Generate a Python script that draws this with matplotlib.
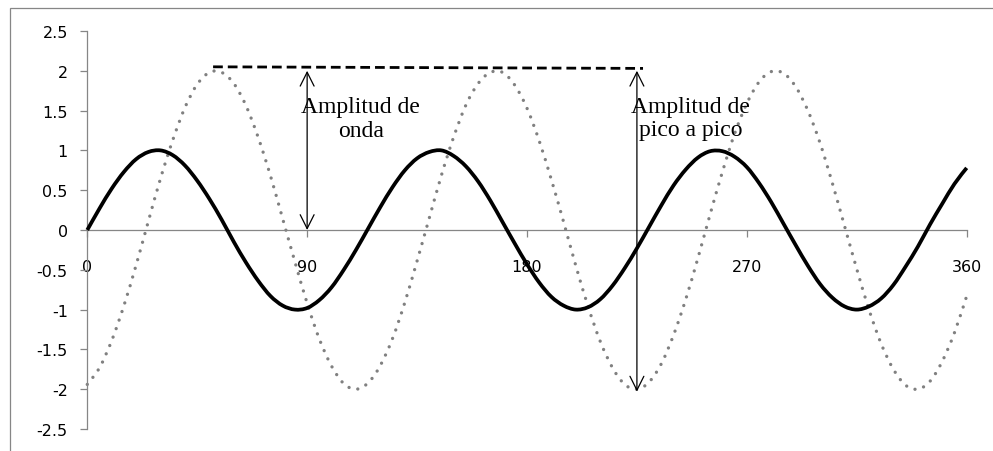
import numpy as np
import matplotlib.pyplot as plt
from matplotlib.patches import Rectangle, PathPatch
from matplotlib.path import Path

# angle (x axis) sampled every 5 units
angulo = list(range(0, 361, 5))
# onda de amplitud 1 (linea negra)
onda1 = [0.00, 0.27, 0.52, 0.73, 0.89, 0.98, 1.00, 0.94, 0.81, 0.62, 0.39, 0.13,
         -0.15, -0.41, -0.64, -0.83, -0.95, -1.00, -0.98, -0.88, -0.72, -0.50, -0.25, 0.02,
         0.29, 0.54, 0.75, 0.90, 0.98, 1.00, 0.93, 0.80, 0.61, 0.37, 0.10, -0.17,
         -0.43, -0.66, -0.84, -0.95, -1.00, -0.97, -0.87, -0.70, -0.48, -0.23, 0.04, 0.31,
         0.56, 0.76, 0.91, 0.99, 0.99, 0.92, 0.79, 0.59, 0.35, 0.08, -0.19, -0.45,
         -0.68, -0.85, -0.96, -1.00, -0.96, -0.86, -0.69, -0.46, -0.21, 0.07, 0.33, 0.58, 0.78]
# onda de amplitud 2 (punteada gris)
onda2 = [-1.94, -1.73, -1.39, -0.95, -0.44, 0.11, 0.65, 1.13, 1.54, 1.83, 1.98, 1.98,
         1.84, 1.56, 1.16, 0.68, 0.14, -0.40, -0.92, -1.37, -1.71, -1.93, -2.00, -1.92,
         -1.70, -1.36, -0.91, -0.39, 0.15, 0.69, 1.17, 1.57, 1.84, 1.98, 1.98, 1.82,
         1.53, 1.12, 0.63, 0.10, -0.45, -0.96, -1.40, -1.73, -1.94, -2.00, -1.91, -1.68,
         -1.32, -0.87, -0.35, 0.20, 0.73, 1.21, 1.59, 1.86, 1.99, 1.97, 1.80, 1.50,
         1.09, 0.59, 0.05, -0.49, -1.00, -1.43, -1.75, -1.95, -2.00, -1.90, -1.65, -1.29, -0.83]

xticks = [0, 90, 180, 270, 360]
yticks = [2.5, 2, 1.5, 1, 0.5, 0, -0.5, -1, -1.5, -2, -2.5]
ylabels = ['2.5', '2', '1.5', '1', '0.5', '0', '-0.5', '-1', '-1.5', '-2', '-2.5']

# dashed reference line at the peak and the two arrows
pico_x = [51.5, 227.5]
pico_y = [2.05, 2.03]
flecha1 = (90, 2.0, 0.0)        # x, top, bottom
flecha2 = (225, 2.0, -2.03)

gris = '#868686'


def smooth_path(xs, ys):
    # excel style smoothed line: bezier segments through the points
    p = np.column_stack([xs, ys]).astype(float)
    verts = [p[0]]
    codes = [Path.MOVETO]
    n = len(p)
    for i in range(n - 1):
        p0 = p[max(i - 1, 0)]
        p1 = p[i]
        p2 = p[i + 1]
        p3 = p[min(i + 2, n - 1)]
        verts += [p1 + (p2 - p0) / 6, p2 - (p3 - p1) / 6, p2]
        codes += [Path.CURVE4] * 3
    return Path(verts, codes)


fig = plt.figure(figsize=(9.93, 4.52), dpi=100)
ax = fig.add_axes([0.0879, 0.0487, 0.8856, 0.8805])

# chart area border
fig.patches.append(Rectangle((9.5/993, -0.1), 1.2, 1.1 - 9.5/452,
                             transform=fig.transFigure, fill=False,
                             edgecolor=gris, lw=0.9))

ax.add_patch(PathPatch(smooth_path(angulo, onda2), fill=False, edgecolor='#808080',
                       lw=2.4, linestyle=(0, (0.01, 2.7)), capstyle='round',
                       clip_on=False, zorder=2))
ax.add_patch(PathPatch(smooth_path(angulo, onda1), fill=False, edgecolor='black',
                       lw=2.7, capstyle='butt', joinstyle='round',
                       clip_on=False, zorder=3))

ax.plot(pico_x, pico_y, color='black', lw=2.0, linestyle=(0, (3.5, 1.8)), zorder=4)

for fx, top, bot in [flecha1, flecha2]:
    ax.annotate('', xy=(fx, top), xytext=(fx, bot),
                arrowprops=dict(arrowstyle='<->,head_length=1.0,head_width=0.5',
                                color='black', lw=0.9, shrinkA=0, shrinkB=0))

ax.text(112, 1.40, 'Amplitud de\nonda', family='Liberation Serif', fontsize=17,
        ha='center', va='center', linespacing=1.15)
ax.text(247, 1.41, 'Amplitud de\npico a pico', family='Liberation Serif', fontsize=17,
        ha='center', va='center', linespacing=1.15)

ax.set_xlim(0, 360)
ax.set_ylim(-2.5, 2.5)
ax.spines['top'].set_visible(False)
ax.spines['right'].set_visible(False)
ax.spines['bottom'].set_position(('data', 0))
for s in ['left', 'bottom']:
    ax.spines[s].set_color(gris)
    ax.spines[s].set_linewidth(0.9)

ax.set_xticks(xticks)
ax.set_xticklabels([str(t) for t in xticks])
ax.set_yticks(yticks)
ax.set_yticklabels(ylabels)
ax.tick_params(axis='x', direction='out', length=5, width=0.9, color=gris,
               pad=16, labelsize=11.5)
ax.tick_params(axis='y', direction='out', length=5, width=0.9, color=gris,
               pad=9, labelsize=11.5)
ax.patch.set_alpha(0)

fig.savefig('out.png', dpi=100)
